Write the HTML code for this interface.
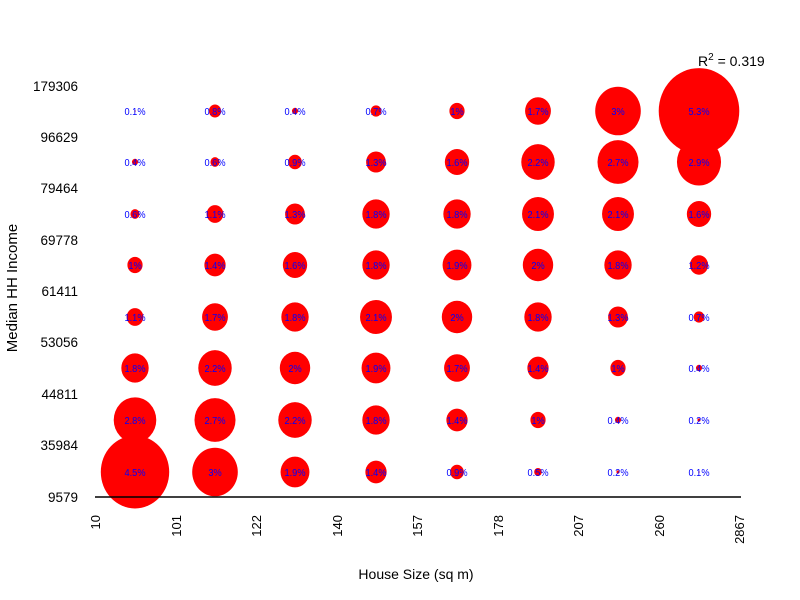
<!DOCTYPE html>
<html><head><meta charset="utf-8"><style>
html,body{margin:0;padding:0;background:#fff;}
svg{display:block;font-family:"Liberation Sans",sans-serif;}
</style></head><body>
<svg id="s" width="800" height="600" xmlns="http://www.w3.org/2000/svg">
<rect width="800" height="600" fill="#fff"/>
<g id="b"></g>
<line x1="95" y1="497" x2="741" y2="497" stroke="#000" stroke-width="1.5"/>
<g font-size="13.5" fill="#000" text-anchor="end">
<text x="78" y="91">179306</text>
<text x="78" y="142">96629</text>
<text x="78" y="193">79464</text>
<text x="78" y="245">69778</text>
<text x="78" y="296">61411</text>
<text x="78" y="347">53056</text>
<text x="78" y="399">44811</text>
<text x="78" y="450">35984</text>
<text x="78" y="502">9579</text>
</g>
<g font-size="13" fill="#000" text-anchor="end">
<text transform="translate(100,515) rotate(-90)">10</text>
<text transform="translate(181,515) rotate(-90)">101</text>
<text transform="translate(261,515) rotate(-90)">122</text>
<text transform="translate(342,515) rotate(-90)">140</text>
<text transform="translate(422,515) rotate(-90)">157</text>
<text transform="translate(503,515) rotate(-90)">178</text>
<text transform="translate(583,515) rotate(-90)">207</text>
<text transform="translate(664,515) rotate(-90)">260</text>
<text transform="translate(744,515) rotate(-90)">2867</text>
</g>
<text x="416" y="579" font-size="14" text-anchor="middle">House Size (sq m)</text>
<text transform="translate(17,288) rotate(-90)" font-size="15" text-anchor="middle">Median HH Income</text>
<text x="698" y="66" font-size="14">R<tspan font-size="10" dy="-6">2</tspan><tspan dy="6"> = 0.319</tspan></text>
</svg>
<script>
var d=[[0.1,0.8,0.4,0.7,1,1.7,3,5.3],
[0.4,0.6,0.9,1.3,1.6,2.2,2.7,2.9],
[0.6,1.1,1.3,1.8,1.8,2.1,2.1,1.6],
[1,1.4,1.6,1.8,1.9,2,1.8,1.2],
[1.1,1.7,1.8,2.1,2,1.8,1.3,0.7],
[1.8,2.2,2,1.9,1.7,1.4,1,0.4],
[2.8,2.7,2.2,1.8,1.4,1,0.4,0.2],
[4.5,3,1.9,1.4,0.9,0.5,0.2,0.1]];
var xs=[135,215,295,376,457,538,618,699],ys=[111,162,214,265,317,368,420,472];
var g=document.getElementById('b'),h='',t='';
for(var r=0;r<8;r++)for(var c=0;c<8;c++){var v=d[r][c];
h+='<ellipse cx="'+xs[c]+'" cy="'+ys[r]+'" rx="'+(v*7.6)+'" ry="'+(v*8.1)+'" fill="#f00"/>';
t+='<text transform="translate('+xs[c]+','+(ys[r]+4)+') scale(0.88,1)" font-size="10.5" fill="#00f" text-anchor="middle">'+v+'%</text>';}
g.innerHTML=h+t;
</script>
</body></html>
